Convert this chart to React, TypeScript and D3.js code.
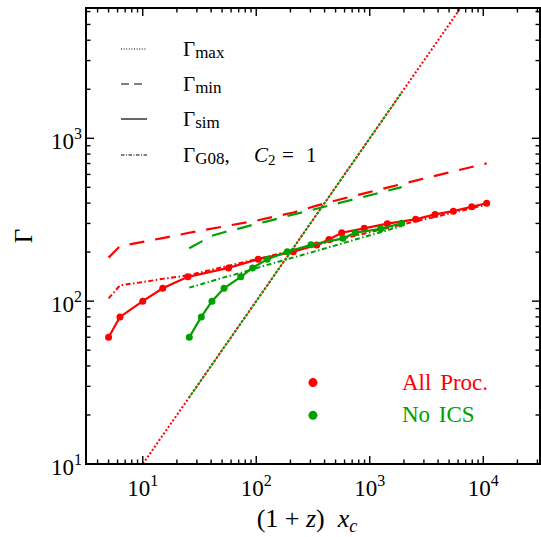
import * as d3 from "d3";
import React from "react";

// All Proc. (red)
const allProcX = [5, 6.3, 10, 15, 25, 57, 104, 212, 341, 437, 566, 895, 1428, 2540, 3757, 5450, 7910, 10720];
const allProcSim = [60, 80, 100, 120, 141, 160, 181, 201, 221, 239, 263, 280, 299, 318, 341, 357, 380, 399];
const allProcMin = [185, 218, 231, 244, 262, 291, 314, 350, 386, 405, 424, 459, 498, 550, 588, 626, 666, 701];
const allProcMax = [5, 6.3, 10, 15, 25, 57, 104, 212, 341, 437, 566, 895, 1428, 2540, 3757, 5450, 7910, 10720];
const allProcG08 = [104, 125, 131, 137, 144, 165, 182, 205, 222, 231, 241, 260, 281, 309, 329, 350, 372, 391];

// No ICS (green)
const noIcsX = [25.7, 32.8, 40.7, 52, 73, 93, 125, 188, 304, 581, 746, 1248, 1912];
const noIcsSim = [60, 80, 100, 120, 141, 160, 181, 201, 222, 243, 263, 278, 301];
const noIcsMin = [211, 232, 252, 265, 281, 294, 309, 333, 362, 406, 424, 465, 501];
const noIcsMax = [25.7, 32.8, 40.7, 52, 73, 93, 125, 188, 304, 581, 746, 1248, 1912];
const noIcsG08 = [121, 127, 133, 140, 149, 157, 167, 181, 199, 227, 239, 265, 289];

const xTickExps = [1, 2, 3, 4];
const yTickExps = [1, 2, 3];

const RED = "#ff0000";
const GREEN = "#00a000";
const FONT = "'Liberation Serif', 'DejaVu Serif', serif";

const App = () => {
  const ref = React.useRef<SVGSVGElement>(null);

  React.useEffect(() => {
    const width = 541,
      height = 537;
    const plot = { left: 86, right: 540, top: 8, bottom: 464 };
    const svg = d3.select(ref.current);
    svg.selectAll("*").remove();
    svg.attr("width", width).attr("height", height);

    const x = d3
      .scaleLog()
      .domain([Math.pow(10, 0.5), Math.pow(10, 4.5)])
      .range([plot.left, plot.right]);
    const y = d3
      .scaleLog()
      .domain([10, Math.pow(10, 3.8)])
      .range([plot.bottom, plot.top]);

    svg
      .append("defs")
      .append("clipPath")
      .attr("id", "plotclip")
      .append("rect")
      .attr("x", plot.left)
      .attr("y", plot.top)
      .attr("width", plot.right - plot.left)
      .attr("height", plot.bottom - plot.top);

    const graph = svg.append("g").attr("clip-path", "url(#plotclip)");

    const line = d3
      .line<number[]>()
      .x((d) => x(d[0]))
      .y((d) => y(d[1]));

    const zip = (xs: number[], ys: number[]) => xs.map((v, i) => [v, ys[i]]);

    const drawSet = (xs, sim, min, max, g08, color) => {
      // gamma max, dotted
      graph
        .append("path")
        .attr("d", line(zip(xs, max)))
        .attr("fill", "none")
        .attr("stroke", color)
        .attr("stroke-width", 2)
        .attr("stroke-dasharray", "2,2");
      // gamma min, dashed
      graph
        .append("path")
        .attr("d", line(zip(xs, min)))
        .attr("fill", "none")
        .attr("stroke", color)
        .attr("stroke-width", 2.2)
        .attr("stroke-dasharray", "15,11");
      // G08, dash-dot
      graph
        .append("path")
        .attr("d", line(zip(xs, g08)))
        .attr("fill", "none")
        .attr("stroke", color)
        .attr("stroke-width", 2)
        .attr("stroke-dasharray", "5,2.5,1.5,2.5");
      // sim, solid with markers
      graph
        .append("path")
        .attr("d", line(zip(xs, sim)))
        .attr("fill", "none")
        .attr("stroke", color)
        .attr("stroke-width", 2.2);
      graph
        .selectAll(null)
        .data(zip(xs, sim))
        .enter()
        .append("circle")
        .attr("cx", (d) => x(d[0]))
        .attr("cy", (d) => y(d[1]))
        .attr("r", 3.5)
        .attr("fill", color);
    };

    drawSet(allProcX, allProcSim, allProcMin, allProcMax, allProcG08, RED);
    drawSet(noIcsX, noIcsSim, noIcsMin, noIcsMax, noIcsG08, GREEN);

    // frame
    svg
      .append("rect")
      .attr("x", plot.left)
      .attr("y", plot.top)
      .attr("width", plot.right - plot.left)
      .attr("height", plot.bottom - plot.top)
      .attr("fill", "none")
      .attr("stroke", "black")
      .attr("stroke-width", 2);

    const isMajor = (v: number) => Math.abs(Math.log10(v) - Math.round(Math.log10(v))) < 1e-6;
    const ticks = svg.append("g").attr("stroke", "black").attr("stroke-width", 1.4);

    x.ticks().forEach((v) => {
      const len = isMajor(v) ? 8 : 4.5;
      const px = x(v);
      if (px < plot.left + 1 || px > plot.right - 1) return;
      ticks.append("line").attr("x1", px).attr("x2", px).attr("y1", plot.bottom).attr("y2", plot.bottom - len);
      ticks.append("line").attr("x1", px).attr("x2", px).attr("y1", plot.top).attr("y2", plot.top + len);
    });
    y.ticks().forEach((v) => {
      const len = isMajor(v) ? 8 : 4.5;
      const py = y(v);
      if (py < plot.top + 1 || py > plot.bottom - 1) return;
      ticks.append("line").attr("y1", py).attr("y2", py).attr("x1", plot.left).attr("x2", plot.left + len);
      ticks.append("line").attr("y1", py).attr("y2", py).attr("x1", plot.right).attr("x2", plot.right - len);
    });

    // tick labels
    xTickExps.forEach((e) => {
      const t = svg
        .append("text")
        .attr("x", x(Math.pow(10, e)))
        .attr("y", 496)
        .attr("text-anchor", "middle")
        .attr("font-family", FONT)
        .attr("font-size", 23)
        .text("10");
      t.append("tspan").attr("font-size", 16).attr("dy", -10).text(e);
    });
    yTickExps.forEach((e) => {
      const t = svg
        .append("text")
        .attr("x", 82)
        .attr("y", y(Math.pow(10, e)) + 10.5)
        .attr("text-anchor", "end")
        .attr("font-family", FONT)
        .attr("font-size", 23)
        .text("10");
      t.append("tspan").attr("font-size", 16).attr("dy", -10).text(e);
    });

    // axis labels
    const xl = svg
      .append("text")
      .attr("x", 307)
      .attr("y", 527)
      .attr("text-anchor", "middle")
      .attr("font-family", FONT)
      .attr("font-size", 26)
      .text("(1 + ");
    xl.append("tspan").attr("font-style", "italic").text("z");
    xl.append("tspan").text(")\u2002");
    xl.append("tspan").attr("font-style", "italic").text("x");
    xl.append("tspan").attr("font-style", "italic").attr("font-size", 18).attr("dy", 5).text("c");

    svg
      .append("text")
      .attr("transform", "translate(32," + (plot.top + plot.bottom) / 2 + ") rotate(-90)")
      .attr("text-anchor", "middle")
      .attr("font-family", FONT)
      .attr("font-size", 25)
      .text("Γ");

    // legend of line styles
    const legend = [
      { sub: "max", dash: "1,1.6", y: 49 },
      { sub: "min", dash: "8,5", y: 84 },
      { sub: "sim", dash: null, y: 119 },
      { sub: "G08", dash: "3.5,1.5,1,1.5", y: 155 },
    ];
    let g08Text = null;
    legend.forEach((l) => {
      svg
        .append("line")
        .attr("x1", 121)
        .attr("x2", 147)
        .attr("y1", l.y)
        .attr("y2", l.y)
        .attr("stroke", "black")
        .attr("stroke-width", 1.2)
        .attr("stroke-dasharray", l.dash);
      const t = svg
        .append("text")
        .attr("x", 183)
        .attr("y", l.y + 7)
        .attr("font-family", FONT)
        .attr("font-size", 21)
        .text("Γ");
      t.append("tspan").attr("font-size", 17).attr("dy", 2).text(l.sub);
      if (l.sub === "G08") g08Text = t;
    });
    const g08y = 155 + 7;
    g08Text.append("tspan").attr("dy", -2).text(",");
    g08Text.append("tspan").attr("x", 254).attr("font-style", "italic").text("C");
    g08Text.append("tspan").attr("font-size", 15).attr("dy", 3).text("2");
    svg.append("text").attr("x", 282).attr("y", g08y).attr("font-family", FONT).attr("font-size", 21).text("=");
    svg.append("text").attr("x", 306).attr("y", g08y).attr("font-family", FONT).attr("font-size", 21).text("1");

    // data-set legend
    const sets = [
      { label: "All Proc.", color: RED, v: 31.6 },
      { label: "No ICS", color: GREEN, v: 19.9 },
    ];
    sets.forEach((s) => {
      svg
        .append("circle")
        .attr("cx", x(316))
        .attr("cy", y(s.v))
        .attr("r", 4.5)
        .attr("fill", s.color);
      svg
        .append("text")
        .attr("x", 402)
        .attr("y", y(s.v) + 7)
        .attr("font-family", FONT)
        .attr("font-size", 23)
        .attr("word-spacing", 3)
        .attr("fill", s.color)
        .text(s.label);
    });
  }, []);

  return (
    <div style={{ position: "absolute", left: 0, top: 0 }}>
      <svg ref={ref} style={{ display: "block" }} />
    </div>
  );
};

export default App;
